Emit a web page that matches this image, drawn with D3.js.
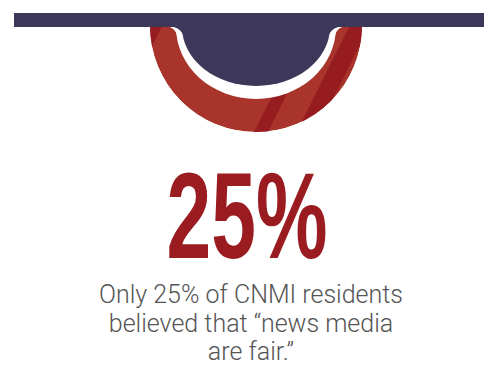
<!DOCTYPE html>
<html lang="en">
<head>
<meta charset="UTF-8" />
<title>CNMI news media</title>
<script src="https://d3js.org/d3.v7.min.js"></script>
<style>
  body { margin: 0; background: #fff; }
  svg { display: block; }
</style>
</head>
<body>
<script>
  // values
  const share = [25];                 // percent shown
  const gaugeDeg = [90, 270];         // red half ring, degrees (bottom half)
  const stripeBands = [[0, 350], [640, 668], [725, 765]]; // darker diagonal bands (2x+y)
  const captionLines = ["Only 25% of CNMI residents", "believed that \u201cnews media", "are fair.\u201d"];

  var W = 484, H = 367;
  var cx = 256, cy = 26;
  var barTop = 13, barBottom = 27;
  var navy = "#3d3759", red = "#a8342b", darkRed = "#971c1f";

  var svg = d3.select("body").append("svg").attr("width", W).attr("height", H);

  var toRad = d3.scaleLinear().domain([0, 360]).range([0, 2 * Math.PI]);

  var arc = d3.arc().innerRadius(60).outerRadius(106)
    .startAngle(function(d) { return toRad(d[0]); })
    .endAngle(function(d) { return toRad(d[1]); });

  // clip so the stripes stay inside the ring
  svg.append("clipPath").attr("id", "ringClip")
    .append("path").attr("transform", "translate(" + cx + "," + cy + ")")
    .attr("d", arc(gaugeDeg));
  // nothing of the knob above the bar's bottom edge
  svg.append("clipPath").attr("id", "belowBar")
    .append("rect").attr("x", 0).attr("y", barBottom - 1).attr("width", W).attr("height", H);

  var ring = svg.append("g").attr("clip-path", "url(#ringClip)");
  ring.append("path").attr("transform", "translate(" + cx + "," + cy + ")")
    .attr("d", arc(gaugeDeg)).attr("fill", red);

  // stripes: band u0<=2x+y<=u1 as polygon
  ring.selectAll("path.stripe").data(stripeBands).enter().append("path")
    .attr("class", "stripe")
    .attr("fill", darkRed)
    .attr("d", function(d) {
      var y0 = 0, y1 = 140;
      return "M" + (d[0] - y0) / 2 + "," + y0 + "L" + (d[1] - y0) / 2 + "," + y0 +
        "L" + (d[1] - y1) / 2 + "," + y1 + "L" + (d[0] - y1) / 2 + "," + y1 + "Z";
    });

  // knob under the bar: white halo then navy
  function knob(rx, ry, flare) {
    var p = d3.path();
    var yTop = barBottom - 1;
    var yJoin = yTop + 18;
    var hw = rx * Math.sqrt(1 - Math.pow((yJoin - yTop) / ry, 2));
    p.moveTo(cx - rx - flare, yTop);
    p.quadraticCurveTo(cx - rx + 2, yTop, cx - hw, yJoin);
    p.lineTo(cx + hw, yJoin);
    p.quadraticCurveTo(cx + rx - 2, yTop, cx + rx + flare, yTop);
    p.closePath();
    return p.toString();
  }

  var k = svg.append("g").attr("clip-path", "url(#belowBar)");
  k.append("ellipse").attr("cx", cx).attr("cy", barBottom).attr("rx", 80).attr("ry", 72).attr("fill", "#fff");
  k.append("path").attr("d", knob(80, 72, 12)).attr("fill", "#fff");
  k.append("ellipse").attr("cx", cx).attr("cy", barBottom).attr("rx", 74).attr("ry", 59).attr("fill", navy);
  k.append("path").attr("d", knob(74, 59, 15)).attr("fill", navy);

  // top bar
  svg.append("rect").attr("x", 14).attr("y", barTop).attr("width", W - 14).attr("height", barBottom - barTop).attr("fill", navy);

  // big number
  svg.append("text")
    .attr("x", 247).attr("y", 258)
    .attr("text-anchor", "middle")
    .attr("textLength", 161).attr("lengthAdjust", "spacingAndGlyphs")
    .style("font-family", "'Liberation Sans Narrow', 'Liberation Sans', sans-serif")
    .style("font-weight", "bold")
    .style("font-size", "122px")
    .attr("fill", "#9b1c20")
    .text(share[0] + "%");

  // caption
  svg.append("g").selectAll("text").data(captionLines).enter().append("text")
    .attr("x", 251)
    .attr("y", function(d, i) { return 303 + i * 28.5; })
    .attr("text-anchor", "middle")
    .style("font-family", "Roboto, 'Liberation Sans', sans-serif")
    .style("font-weight", 300)
    .style("font-size", "25px")
    .attr("fill", "#555")
    .text(function(d) { return d; });
</script>
</body>
</html>
